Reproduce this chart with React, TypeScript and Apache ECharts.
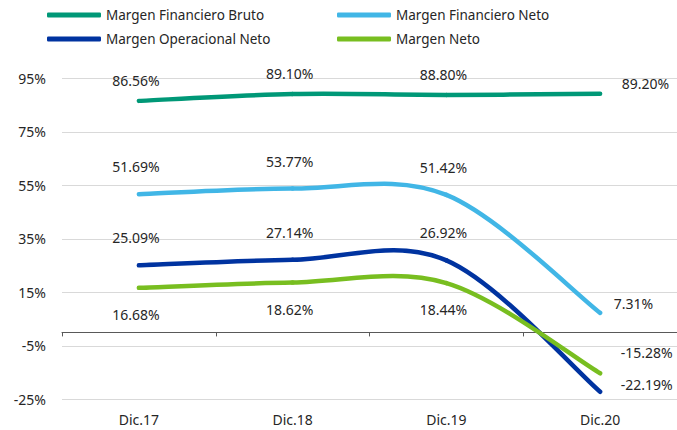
import { useEffect, useRef } from "react";
import * as echarts from "echarts";

const categories = ["Dic.17", "Dic.18", "Dic.19", "Dic.20"];
const seriesNames = [
  "Margen Financiero Bruto",
  "Margen Financiero Neto",
  "Margen Operacional Neto",
  "Margen Neto",
];
const margenFinancieroBruto = [86.56, 89.1, 88.8, 89.2];
const margenFinancieroNeto = [51.69, 53.77, 51.42, 7.31];
const margenOperacionalNeto = [25.09, 27.14, 26.92, -22.19];
const margenNeto = [16.68, 18.62, 18.44, -15.28];
const yMin = -25;
const yMax = 95;
const yStep = 20;

const FONT = "Noto Sans";
const TEXT = "#262626";

const seriesStyles = [
  { color: "#009877", pos: "top", dist: 13, end: [21, -10] },
  { color: "#41B6E6", pos: "top", dist: 20, end: [13, -9] },
  { color: "#0033A0", pos: "top", dist: 20, end: [20, -7] },
  { color: "#78BE20", pos: "bottom", dist: 19, end: [20, -21] },
];

const legendPlaces = [
  { left: 47, top: 7 },
  { left: 337, top: 7 },
  { left: 47, top: 31 },
  { left: 337, top: 31 },
];

export default function App() {
  const ref = useRef<HTMLDivElement>(null);
  useEffect(() => {
    if (!ref.current) return;
    const chart = echarts.init(ref.current, undefined, { renderer: "svg" });
    const allValues = [margenFinancieroBruto, margenFinancieroNeto, margenOperacionalNeto, margenNeto];
    const fmt = (v: number) => v.toFixed(2) + "%";

    // Invisible line series: carry legend entries and data labels
    const labelSeries = allValues.map((vals, si) => {
      const st = seriesStyles[si];
      return {
        name: seriesNames[si],
        type: "line",
        xAxisIndex: 0,
        symbol: "circle",
        symbolSize: 1,
        showSymbol: true,
        lineStyle: { color: st.color, width: 0, opacity: 0 },
        itemStyle: { color: st.color },
        z: 3,
        label: {
          show: true,
          position: st.pos,
          distance: st.dist,
          offset: [-3, 0],
          fontFamily: FONT,
          fontSize: 14,
          color: TEXT,
          formatter: (p: any) => fmt(Number(p.value)),
        },
        data: vals.map((v, i) =>
          i === vals.length - 1
            ? {
                value: v,
                label: { position: "right", distance: st.end[0], offset: [0, st.end[1]] },
              }
            : v
        ),
      };
    });

    // Smooth curves (Catmull-Rom style, like the spreadsheet's smoothed lines)
    const curveSeries = allValues.map((vals, si) => {
      const st = seriesStyles[si];
      const n = vals.length;
      return {
        name: seriesNames[si] + " ",
        type: "custom",
        xAxisIndex: 0,
        z: 2,
        silent: true,
        data: vals.map((v, i) => [i, v]),
        renderItem: (params: any, api: any) => {
          const i = params.dataIndexInside;
          if (i >= n - 1) return null;
          const pt = (k: number) => api.coord([api.value(0, k), api.value(1, k)]);
          const p0 = pt(Math.max(i - 1, 0));
          const p1 = pt(i);
          const p2 = pt(i + 1);
          const p3 = pt(Math.min(i + 2, n - 1));
          return {
            type: "bezierCurve",
            shape: {
              x1: p1[0],
              y1: p1[1],
              x2: p2[0],
              y2: p2[1],
              cpx1: p1[0] + (p2[0] - p0[0]) / 6,
              cpy1: p1[1] + (p2[1] - p0[1]) / 6,
              cpx2: p2[0] - (p3[0] - p1[0]) / 6,
              cpy2: p2[1] - (p3[1] - p1[1]) / 6,
            },
            style: { stroke: st.color, lineWidth: 4.5, fill: "none", lineCap: "round" },
          };
        },
      };
    });

    chart.setOption({
      animation: false,
      legend: seriesNames.map((n, i) => ({
        data: [n],
        left: legendPlaces[i].left,
        top: legendPlaces[i].top,
        padding: 0,
        itemWidth: 54,
        itemHeight: 5,
        itemGap: 0,
        icon: "roundRect",
        itemStyle: { color: seriesStyles[i].color },
        textStyle: { fontFamily: FONT, fontSize: 13.5, color: TEXT, lineHeight: 16 },
        selectedMode: false,
      })),
      grid: { left: 62, right: -5, top: 78.3, bottom: 30.7, containLabel: false },
      xAxis: [
        {
          type: "category",
          data: categories,
          position: "bottom",
          boundaryGap: true,
          axisLine: { show: false, onZero: false },
          axisTick: { show: false },
          axisLabel: { fontFamily: FONT, fontSize: 14, color: TEXT, margin: 13 },
          splitLine: { show: false },
        },
        {
          type: "category",
          data: categories,
          position: "bottom",
          boundaryGap: true,
          axisLine: { show: true, onZero: true, lineStyle: { color: "#595959", width: 1 } },
          axisTick: { show: true, length: 4, lineStyle: { color: "#595959" } },
          axisLabel: { show: false },
          splitLine: { show: false },
        },
      ],
      yAxis: {
        type: "value",
        min: yMin,
        max: yMax,
        interval: yStep,
        axisLine: { show: false },
        axisTick: { show: false },
        axisLabel: {
          fontFamily: FONT,
          fontSize: 14,
          color: TEXT,
          margin: 16,
          formatter: (v: number) => v + "%",
        },
        splitLine: { show: true, lineStyle: { color: "#D9D9D9", width: 1 } },
      },
      series: [...curveSeries, ...labelSeries],
    });
    return () => chart.dispose();
  }, []);
  return (
    <div
      ref={ref}
      style={{ position: "fixed", left: 0, top: 0, width: 677, height: 430, background: "#fff" }}
    />
  );
}
